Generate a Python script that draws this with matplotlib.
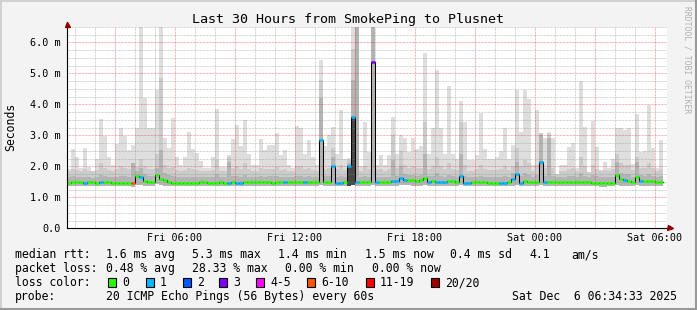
import numpy as np
import matplotlib
matplotlib.use("Agg")
import matplotlib.pyplot as plt
from matplotlib.lines import Line2D
from matplotlib.patches import Rectangle

plt.rcParams['font.family'] = ['DejaVu Sans Mono']

# ---------------- data ----------------
title = "Last 30 Hours from SmokePing to Plusnet"
start_hour = 0.6          # Fri 00:36 (hours since Fri 00:00)
bin_hours = 0.2           # 12 minute consolidation
span_hours = 30.0

xtick_hours = [6, 12, 18, 24, 30]
xtick_labels = ["Fri 06:00", "Fri 12:00", "Fri 18:00", "Sat 00:00", "Sat 06:00"]
ytick_vals = [0, 1, 2, 3, 4, 5, 6]
ytick_labels = ["0.0", "1.0 m", "2.0 m", "3.0 m", "4.0 m", "5.0 m", "6.0 m"]

median = [
    1.47, 1.50, 1.50, 1.48, 1.47, 1.48, 1.48, 1.47, 1.49, 1.48,
    1.48, 1.47, 1.47, 1.47, 1.47, 1.46, 1.45, 1.70, 1.64, 1.52,
    1.48, 1.48, 1.72, 1.58, 1.55, 1.50, 1.47, 1.47, 1.47, 1.46,
    1.46, 1.47, 1.47, 1.48, 1.48, 1.47, 1.47, 1.47, 1.48, 1.47,
    1.47, 1.48, 1.47, 1.46, 1.48, 1.48, 1.48, 1.48, 1.48, 1.48,
    1.48, 1.47, 1.48, 1.48, 1.48, 1.48, 1.48, 1.48, 1.48, 1.48,
    1.48, 1.48, 1.48, 2.86, 1.48, 1.48, 2.00, 1.47, 1.47, 1.48,
    2.00, 3.60, 1.48, 1.48, 1.48, 1.48, 5.36, 1.48, 1.48, 1.48,
    1.48, 1.52, 1.52, 1.62, 1.56, 1.56, 1.55, 1.53, 1.55, 1.63,
    1.50, 1.51, 1.48, 1.48, 1.48, 1.51, 1.51, 1.50, 1.68, 1.46,
    1.47, 1.48, 1.48, 1.48, 1.48, 1.47, 1.47, 1.47, 1.47, 1.47,
    1.48, 1.60, 1.76, 1.47, 1.52, 1.48, 1.48, 1.48, 2.14, 1.48,
    1.48, 1.48, 1.48, 1.48, 1.48, 1.48, 1.48, 1.48, 1.50, 1.50,
    1.48, 1.47, 1.47, 1.46, 1.46, 1.47, 1.47, 1.73, 1.58, 1.56,
    1.54, 1.49, 1.65, 1.53, 1.53, 1.53, 1.52, 1.49, 1.49,
]

# loss class index per bin (0 = 0 lost, 1 = 1 lost, 3 = 3 lost, 5 = 6-10 lost)
loss_class = [
    0, 0, 0, 0, 1, 0, 0, 0, 1, 0,
    0, 0, 0, 0, 0, 0, 5, 0, 1, 0,
    0, 0, 0, 0, 0, 0, 0, 0, 0, 0,
    0, 0, 0, 0, 0, 0, 0, 0, 0, 0,
    1, 0, 1, 1, 0, 0, 0, 0, 0, 0,
    0, 0, 0, 0, 1, 0, 0, 0, 0, 1,
    0, 0, 0, 1, 0, 0, 1, 1, 1, 0,
    1, 1, 1, 0, 0, 0, 3, 1, 0, 0,
    0, 1, 1, 1, 1, 0, 0, 0, 0, 0,
    1, 0, 1, 1, 1, 0, 0, 0, 1, 1,
    1, 0, 0, 0, 0, 0, 0, 0, 1, 1,
    0, 1, 1, 1, 0, 0, 0, 0, 1, 1,
    0, 0, 0, 0, 0, 0, 0, 0, 0, 0,
    0, 0, 0, 0, 0, 0, 0, 0, 0, 1,
    0, 0, 0, 1, 0, 0, 0, 0, 0,
]

ping_max = [
    1.90, 2.57, 2.30, 1.93, 2.59, 1.98, 1.82, 2.25, 3.54, 2.98,
    2.30, 2.03, 2.73, 3.24, 2.98, 2.52, 2.70, 3.24, 6.50, 4.20,
    3.24, 3.24, 4.46, 6.50, 2.90, 2.60, 3.56, 2.30, 2.03, 2.30,
    3.10, 2.57, 2.43, 2.16, 1.95, 1.95, 2.30, 3.84, 1.98, 1.98,
    2.37, 2.87, 3.34, 2.66, 3.50, 2.40, 2.03, 2.03, 2.87, 2.52,
    2.70, 2.68, 3.08, 2.37, 2.52, 2.03, 1.93, 3.30, 3.24, 2.40,
    2.84, 2.30, 2.03, 5.44, 2.66, 3.00, 3.27, 2.40, 3.83, 2.25,
    2.27, 6.50, 6.50, 2.00, 3.43, 2.46, 6.50, 2.03, 2.35, 2.05,
    2.35, 3.59, 2.40, 3.00, 2.90, 2.46, 2.90, 2.57, 2.66, 5.66,
    2.40, 3.22, 5.10, 3.22, 2.40, 4.59, 2.40, 2.23, 4.10, 3.43,
    2.20, 2.20, 2.35, 3.73, 2.57, 2.25, 2.23, 2.30, 2.50, 3.24,
    2.23, 2.70, 4.45, 3.10, 4.45, 4.18, 2.03, 3.83, 3.08, 2.90,
    3.10, 2.90, 1.76, 2.03, 2.03, 2.62, 2.76, 1.93, 4.75, 3.27,
    1.82, 3.46, 2.62, 1.87, 2.14, 1.96, 2.25, 3.24, 3.24, 3.16,
    3.24, 2.06, 3.68, 2.46, 2.49, 3.99, 2.59, 1.96, 2.85,
]

ping_p90 = [
    1.85, 1.90, 1.88, 1.85, 1.90, 1.86, 1.84, 1.88, 2.10, 1.95,
    1.88, 1.86, 1.90, 2.00, 1.95, 1.90, 2.12, 1.98, 2.25, 2.00,
    1.92, 1.92, 2.40, 4.85, 2.05, 1.95, 1.98, 1.88, 1.85, 1.88,
    1.95, 1.90, 1.88, 1.86, 1.84, 1.84, 1.88, 2.20, 1.86, 1.86,
    2.30, 1.95, 2.00, 1.92, 2.10, 1.90, 1.86, 1.86, 1.95, 1.90,
    1.92, 1.92, 1.98, 1.88, 1.90, 1.86, 1.84, 2.00, 2.00, 1.90,
    1.95, 1.88, 1.86, 4.78, 1.92, 1.95, 2.60, 1.90, 2.05, 1.88,
    2.20, 5.80, 6.50, 1.86, 2.00, 1.90, 6.50, 1.88, 1.90, 1.86,
    1.90, 3.00, 1.95, 2.50, 2.05, 1.95, 2.00, 1.95, 1.95, 3.43,
    1.92, 2.00, 2.30, 2.00, 1.90, 2.10, 1.90, 1.88, 3.43, 2.05,
    1.86, 1.86, 1.90, 2.05, 1.92, 1.88, 1.88, 1.88, 1.92, 2.00,
    1.88, 2.00, 2.60, 2.00, 2.20, 2.10, 1.86, 2.05, 3.08, 1.95,
    3.05, 1.95, 1.76, 1.86, 1.86, 1.92, 1.95, 1.84, 2.30, 2.00,
    1.82, 2.05, 1.92, 1.85, 1.88, 1.86, 1.90, 2.40, 2.10, 2.05,
    2.05, 1.88, 2.30, 1.95, 1.95, 2.10, 1.95, 1.86, 1.92,
]

ping_p75 = [
    1.64, 1.68, 1.66, 1.64, 1.66, 1.64, 1.63, 1.66, 1.72, 1.68,
    1.66, 1.64, 1.66, 1.70, 1.68, 1.66, 2.12, 1.85, 1.95, 1.75,
    1.68, 1.68, 1.95, 2.52, 1.80, 1.72, 1.70, 1.66, 1.64, 1.64,
    1.66, 1.66, 1.66, 1.65, 1.64, 1.64, 1.65, 1.75, 1.65, 1.64,
    2.15, 1.68, 1.68, 1.66, 1.72, 1.66, 1.65, 1.65, 1.68, 1.66,
    1.68, 1.68, 1.70, 1.66, 1.66, 1.65, 1.64, 1.70, 1.70, 1.66,
    1.68, 1.66, 1.65, 4.20, 1.68, 1.68, 2.30, 1.66, 1.70, 1.66,
    2.10, 4.80, 6.50, 1.65, 1.70, 1.66, 6.50, 1.66, 1.66, 1.64,
    1.66, 2.20, 1.70, 2.00, 1.75, 1.72, 1.72, 1.70, 1.72, 2.40,
    1.68, 1.70, 1.80, 1.70, 1.66, 1.72, 1.68, 1.66, 2.40, 1.70,
    1.64, 1.64, 1.66, 1.70, 1.66, 1.65, 1.65, 1.65, 1.66, 1.70,
    1.66, 1.80, 2.14, 1.70, 1.80, 1.72, 1.65, 1.72, 3.00, 1.68,
    2.90, 1.68, 1.65, 1.65, 1.65, 1.68, 1.70, 1.64, 1.80, 1.70,
    1.64, 1.72, 1.68, 1.64, 1.66, 1.64, 1.66, 2.14, 1.80, 1.75,
    1.75, 1.66, 2.14, 1.72, 1.70, 1.75, 1.70, 1.66, 1.68,
]

ping_dark = [
    0, 0, 0, 0, 0, 0, 0, 0, 0, 0,
    0, 0, 0, 0, 0, 0, 1.95, 0, 0, 0,
    0, 0, 0, 2.00, 0, 0, 0, 0, 0, 0,
    0, 0, 0, 0, 0, 0, 0, 0, 0, 0,
    2.00, 0, 0, 0, 0, 0, 0, 0, 0, 0,
    0, 0, 0, 0, 0, 0, 0, 0, 0, 0,
    0, 0, 0, 3.10, 0, 0, 2.00, 0, 0, 0,
    2.00, 3.60, 6.50, 0, 0, 0, 6.50, 0, 0, 0,
    0, 0, 0, 0, 0, 0, 0, 0, 0, 1.80,
    0, 0, 0, 0, 0, 0, 0, 0, 1.90, 0,
    0, 0, 0, 0, 0, 0, 0, 0, 0, 0,
    0, 0, 2.00, 0, 0, 0, 0, 0, 2.60, 0,
    2.50, 0, 0, 0, 0, 0, 0, 0, 0, 0,
    0, 0, 0, 0, 0, 0, 0, 1.90, 0, 0,
    0, 0, 1.90, 0, 0, 0, 0, 0, 0,
]

ping_min = [
    1.36, 1.36, 1.37, 1.36, 1.35, 1.36, 1.36, 1.36, 1.37, 1.36,
    1.36, 1.35, 1.35, 1.36, 1.36, 1.35, 1.34, 1.40, 1.40, 1.38,
    1.36, 1.36, 1.42, 1.40, 1.38, 1.37, 1.36, 1.35, 1.35, 1.35,
    1.35, 1.35, 1.36, 1.36, 1.36, 1.35, 1.35, 1.35, 1.36, 1.35,
    1.35, 1.36, 1.35, 1.35, 1.36, 1.36, 1.36, 1.36, 1.36, 1.36,
    1.36, 1.35, 1.36, 1.36, 1.36, 1.36, 1.36, 1.36, 1.36, 1.36,
    1.36, 1.36, 1.36, 1.40, 1.36, 1.36, 1.38, 1.35, 1.35, 1.36,
    1.38, 1.40, 1.38, 1.36, 1.36, 1.36, 1.40, 1.36, 1.36, 1.36,
    1.36, 1.38, 1.38, 1.40, 1.39, 1.39, 1.38, 1.38, 1.38, 1.40,
    1.37, 1.37, 1.36, 1.36, 1.36, 1.37, 1.37, 1.37, 1.40, 1.35,
    1.35, 1.36, 1.36, 1.36, 1.36, 1.35, 1.35, 1.35, 1.35, 1.35,
    1.36, 1.38, 1.40, 1.35, 1.38, 1.36, 1.36, 1.36, 1.40, 1.36,
    1.36, 1.36, 1.36, 1.36, 1.36, 1.36, 1.36, 1.36, 1.37, 1.37,
    1.36, 1.35, 1.35, 1.34, 1.34, 1.35, 1.35, 1.40, 1.38, 1.38,
    1.37, 1.36, 1.40, 1.37, 1.37, 1.37, 1.37, 1.36, 1.36,
]

loss_colors = ['#26ff00', '#00b8ff', '#0059ff', '#7e00ff',
               '#ff00ff', '#ff5500', '#ff0000', '#a10000']
loss_labels = ['0', '1', '2', '3', '4-5', '6-10', '11-19', '20/20']

stats_rtt = ["1.6 ms avg", "5.3 ms max", "1.4 ms min", "1.5 ms now", "0.4 ms sd", "4.1", "am/s"]
stats_loss = ["0.48 % avg", "28.33 % max", "0.00 % min", "0.00 % now"]
probe_text = "20 ICMP Echo Pings (56 Bytes) every 60s"
stamp_text = "Sat Dec  6 06:34:33 2025"

# ---------------- figure ----------------
W, H = 697, 310
fig = plt.figure(figsize=(W / 100, H / 100), dpi=100, facecolor='#f3f3f3')

def fx(x):
    return x / W

def fy(y):
    return 1 - y / H

L, R, T, B = 66.7, 666.7, 26.8, 228.3
ax = fig.add_axes([fx(L), fy(B), fx(R) - fx(L), fy(T) - fy(B)])
ax.set_facecolor('white')
for s in ax.spines.values():
    s.set_visible(False)

x0, x1 = start_hour, start_hour + span_hours
ax.set_xlim(x0, x1)
ax.set_ylim(0, 6.5)

n = len(median)
edges = start_hour + bin_hours * np.arange(n + 1)

def ext(a):
    a = np.asarray(a, dtype=float)
    return np.append(a, a[-1])

mn = np.asarray(ping_min)
layers = [
    (ping_max, '#dedede'),
    (ping_p90, '#cbcbcb'),
    (ping_p75, '#b4b4b4'),
]
for top, col in layers:
    ax.fill_between(edges, ext(mn), ext(top), step='post', color=col,
                    linewidth=0, zorder=1)
dk = np.asarray(ping_dark)
ax.fill_between(edges, ext(mn), ext(dk), where=ext(dk) > ext(mn), step='post',
                color='#474747', linewidth=0, zorder=2)

# grid (drawn above smoke)
minor_col = (0.55, 0.55, 0.55, 0.5)
major_col = (1.0, 0.0, 0.0, 0.42)
dots = (0, (0.72, 0.72))
for h in range(1, 31):
    if x0 < h < x1:
        col = major_col if h % 3 == 0 else minor_col
        ax.axvline(h, color=col, lw=0.72, ls=dots, zorder=3)
for i in range(1, 27):
    v = i * 0.25
    col = major_col if i % 4 == 0 else minor_col
    ax.axhline(v, color=col, lw=0.72, ls=dots, zorder=3)

# median line
med = np.asarray(median)
ax.step(edges, ext(med), where='post', color='black', lw=0.75, zorder=4)
ax.hlines(med, edges[:-1], edges[1:], colors=[loss_colors[c] for c in loss_class],
          lw=1.9, zorder=5)

# ticks
ax.set_xticks(xtick_hours)
ax.set_xticklabels(xtick_labels, fontsize=7.3)
ax.set_yticks(ytick_vals)
ax.set_yticklabels(ytick_labels, fontsize=7.3)
ax.tick_params(axis='both', length=0)
ax.tick_params(axis='x', pad=3.2)
ax.tick_params(axis='y', pad=4.6)

# axes lines with arrows
ax.plot([0, 1.009], [0, 0], transform=ax.transAxes, color='black', lw=0.8,
        clip_on=False, zorder=6)
ax.plot([0, 0], [0, 1.025], transform=ax.transAxes, color='black', lw=0.8,
        clip_on=False, zorder=6)
fig.add_artist(Line2D([fx(670.3)], [fy(227.8)], marker='>', markersize=3.6,
                      color='#8b0000', transform=fig.transFigure))
fig.add_artist(Line2D([fx(67.0)], [fy(23.6)], marker='^', markersize=3.6,
                      color='#8b0000', transform=fig.transFigure))

# title and labels
fig.text(fx(348), fy(22.5), title, ha='center', va='baseline', fontsize=9.6)
fig.text(fx(10.5), fy(127), "Seconds", rotation=90, ha='center', va='center',
         fontsize=8.3)
fig.text(fx(687.5), fy(60), "RRDTOOL / TOBI OETIKER", rotation=270, ha='center',
         va='center', fontsize=5.8, color='#b0b0b0')

# legend rows
fs = 8.3
fig.text(fx(15), fy(258.3), "median rtt:", fontsize=fs, va='baseline')
for txt, x in zip(stats_rtt, [106.5, 192.5, 278.5, 365, 450.3, 529.3, 571.5]):
    fig.text(fx(x), fy(258.3), txt, fontsize=fs, va='baseline')
fig.text(fx(15), fy(272.3), "packet loss:", fontsize=fs, va='baseline')
for txt, x in zip(stats_loss, [106.5, 192.5, 285.3, 371.5]):
    fig.text(fx(x), fy(272.3), txt, fontsize=fs, va='baseline')
fig.text(fx(15), fy(286.3), "loss color:", fontsize=fs, va='baseline')
sq_x = [108.3, 145.7, 182.7, 219.3, 256.0, 307.3, 365.7, 430.7]
for col, lab, x in zip(loss_colors, loss_labels, sq_x):
    fig.add_artist(Rectangle((fx(x), fy(286.7)), 8 / W, 9 / H, facecolor=col,
                             edgecolor='black', lw=0.8, transform=fig.transFigure))
    fig.text(fx(x + 14.3), fy(286.3), lab, fontsize=fs, va='baseline')
fig.text(fx(15), fy(300.3), "probe:", fontsize=fs, va='baseline')
fig.text(fx(106.5), fy(300.3), probe_text, fontsize=fs, va='baseline')
fig.text(fx(512.5), fy(300.3), stamp_text, fontsize=fs, va='baseline')

# frame
fig.add_artist(Line2D([0, 1], [fy(0.75), fy(0.75)], color='#cbcbcb', lw=1.2,
                      transform=fig.transFigure))
fig.add_artist(Line2D([fx(0.75), fx(0.75)], [0, 1], color='#cbcbcb', lw=1.2,
                      transform=fig.transFigure))
fig.add_artist(Line2D([0, 1], [fy(309.0), fy(309.0)], color='#999999', lw=1.5,
                      transform=fig.transFigure))
fig.add_artist(Line2D([fx(696.0), fx(696.0)], [0, 1], color='#999999', lw=1.5,
                      transform=fig.transFigure))

fig.savefig('out.png', dpi=100, facecolor=fig.get_facecolor())
